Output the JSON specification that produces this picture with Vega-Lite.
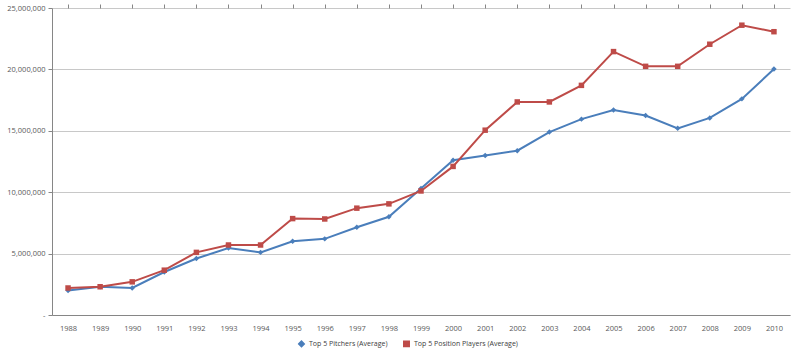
{
  "$schema": "https://vega.github.io/schema/vega-lite/v6.json",
  "width": 738,
  "height": 307,
  "autosize": "none",
  "padding": {"left": 52, "top": 8, "right": 10, "bottom": 43},
  "background": "white",
  "config": {
    "view": {"stroke": null},
    "font": "Open Sans",
    "axis": {"labelFont": "Open Sans", "labelFontSize": 7.5, "labelColor": "#595959", "domainColor": "#868686", "tickColor": "#868686", "gridColor": "#c8c8c8", "title": null},
    "legend": {"labelFont": "Open Sans", "labelFontSize": 7, "labelColor": "#404040"}
  },
  "data": {
    "values": [
      {"year": "1988", "series": "Top 5 Pitchers (Average)", "value": 2000000},
      {"year": "1989", "series": "Top 5 Pitchers (Average)", "value": 2300000},
      {"year": "1990", "series": "Top 5 Pitchers (Average)", "value": 2200000},
      {"year": "1991", "series": "Top 5 Pitchers (Average)", "value": 3500000},
      {"year": "1992", "series": "Top 5 Pitchers (Average)", "value": 4600000},
      {"year": "1993", "series": "Top 5 Pitchers (Average)", "value": 5450000},
      {"year": "1994", "series": "Top 5 Pitchers (Average)", "value": 5100000},
      {"year": "1995", "series": "Top 5 Pitchers (Average)", "value": 6000000},
      {"year": "1996", "series": "Top 5 Pitchers (Average)", "value": 6200000},
      {"year": "1997", "series": "Top 5 Pitchers (Average)", "value": 7150000},
      {"year": "1998", "series": "Top 5 Pitchers (Average)", "value": 8000000},
      {"year": "1999", "series": "Top 5 Pitchers (Average)", "value": 10300000},
      {"year": "2000", "series": "Top 5 Pitchers (Average)", "value": 12600000},
      {"year": "2001", "series": "Top 5 Pitchers (Average)", "value": 12980000},
      {"year": "2002", "series": "Top 5 Pitchers (Average)", "value": 13380000},
      {"year": "2003", "series": "Top 5 Pitchers (Average)", "value": 14900000},
      {"year": "2004", "series": "Top 5 Pitchers (Average)", "value": 15950000},
      {"year": "2005", "series": "Top 5 Pitchers (Average)", "value": 16700000},
      {"year": "2006", "series": "Top 5 Pitchers (Average)", "value": 16250000},
      {"year": "2007", "series": "Top 5 Pitchers (Average)", "value": 15200000},
      {"year": "2008", "series": "Top 5 Pitchers (Average)", "value": 16050000},
      {"year": "2009", "series": "Top 5 Pitchers (Average)", "value": 17600000},
      {"year": "2010", "series": "Top 5 Pitchers (Average)", "value": 20030000},
      {"year": "1988", "series": "Top 5 Position Players (Average)", "value": 2200000},
      {"year": "1989", "series": "Top 5 Position Players (Average)", "value": 2300000},
      {"year": "1990", "series": "Top 5 Position Players (Average)", "value": 2700000},
      {"year": "1991", "series": "Top 5 Position Players (Average)", "value": 3650000},
      {"year": "1992", "series": "Top 5 Position Players (Average)", "value": 5100000},
      {"year": "1993", "series": "Top 5 Position Players (Average)", "value": 5700000},
      {"year": "1994", "series": "Top 5 Position Players (Average)", "value": 5700000},
      {"year": "1995", "series": "Top 5 Position Players (Average)", "value": 7850000},
      {"year": "1996", "series": "Top 5 Position Players (Average)", "value": 7820000},
      {"year": "1997", "series": "Top 5 Position Players (Average)", "value": 8700000},
      {"year": "1998", "series": "Top 5 Position Players (Average)", "value": 9050000},
      {"year": "1999", "series": "Top 5 Position Players (Average)", "value": 10100000},
      {"year": "2000", "series": "Top 5 Position Players (Average)", "value": 12100000},
      {"year": "2001", "series": "Top 5 Position Players (Average)", "value": 15050000},
      {"year": "2002", "series": "Top 5 Position Players (Average)", "value": 17350000},
      {"year": "2003", "series": "Top 5 Position Players (Average)", "value": 17350000},
      {"year": "2004", "series": "Top 5 Position Players (Average)", "value": 18700000},
      {"year": "2005", "series": "Top 5 Position Players (Average)", "value": 21450000},
      {"year": "2006", "series": "Top 5 Position Players (Average)", "value": 20250000},
      {"year": "2007", "series": "Top 5 Position Players (Average)", "value": 20250000},
      {"year": "2008", "series": "Top 5 Position Players (Average)", "value": 22050000},
      {"year": "2009", "series": "Top 5 Position Players (Average)", "value": 23600000},
      {"year": "2010", "series": "Top 5 Position Players (Average)", "value": 23070000}
    ]
  },
  "layer": [
    {
      "mark": {"type": "line", "strokeWidth": 2},
      "encoding": {
        "x": {"field": "year", "type": "ordinal", "scale": {"paddingInner": 0, "paddingOuter": 0}, "axis": {"labelAngle": 0, "ticks": false, "labelPadding": 9, "domainColor": "#868686", "grid": false}},
        "y": {"field": "value", "type": "quantitative", "scale": {"domain": [0, 25000000], "nice": false}, "axis": {"values": [0, 5000000, 10000000, 15000000, 20000000, 25000000], "labelExpr": "datum.value == 0 ? '-' : format(datum.value, ',')", "tickSize": 4, "labelPadding": 3, "grid": true}},
        "color": {"field": "series", "type": "nominal", "scale": {"domain": ["Top 5 Pitchers (Average)", "Top 5 Position Players (Average)"], "range": ["#4a7ebb", "#be4b48"]}, "legend": {"orient": "none", "legendX": 246, "legendY": 332, "direction": "horizontal", "title": null, "columnPadding": 12, "labelOffset": 4, "symbolSize": 30}}
      }
    },
    {
      "mark": {"type": "point", "filled": true, "opacity": 1, "size": 30},
      "encoding": {
        "x": {"field": "year", "type": "ordinal", "axis": {"labels": false, "ticks": true, "tickSize": 4, "bandPosition": 0, "domain": false, "grid": false}},
        "y": {"field": "value", "type": "quantitative"},
        "color": {"field": "series", "type": "nominal", "legend": {"orient": "none", "legendX": 246, "legendY": 332, "direction": "horizontal", "title": null, "columnPadding": 12, "labelOffset": 4, "symbolSize": 30}},
        "shape": {"field": "series", "type": "nominal", "scale": {"domain": ["Top 5 Pitchers (Average)", "Top 5 Position Players (Average)"], "range": ["diamond", "square"]}, "legend": {"orient": "none", "legendX": 246, "legendY": 332, "direction": "horizontal", "title": null, "columnPadding": 12, "labelOffset": 4, "symbolSize": 30}}
      }
    }
  ],
  "resolve": {"axis": {"x": "independent"}}
}
